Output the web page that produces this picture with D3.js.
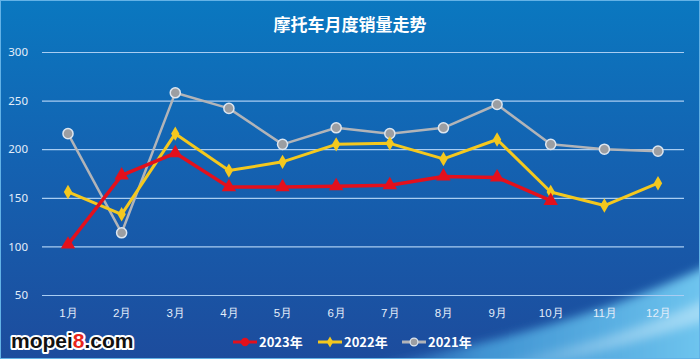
<!DOCTYPE html>
<html lang="zh">
<head>
<meta charset="UTF-8">
<script src="https://cdn.jsdelivr.net/npm/d3@7/dist/d3.min.js"></script>
<style>
  body { margin: 0; background: #fff; }
  svg { display: block; font-family: "Noto Sans CJK SC", "Noto Sans", sans-serif; }
</style>
</head>
<body>
<svg id="main_svg" width="700" height="362"></svg>
<script>
// 数据
var months = ["1月", "2月", "3月", "4月", "5月", "6月", "7月", "8月", "9月", "10月", "11月", "12月"];
var sales2023 = [102, 173, 196, 161, 161, 162, 163, 172, 171, 147];
var sales2022 = [156, 133, 216, 178, 187, 205, 206, 190, 210, 156, 142, 165];
var sales2021 = [216, 114, 258, 242, 205, 222, 216, 222, 246, 205, 200, 198];
var yTicks = [50, 100, 150, 200, 250, 300];
var seriesNames = ["2023年", "2022年", "2021年"];

var svg = d3.select("#main_svg");
var W = 700, H = 362;

// 背景渐变
var defs = svg.append("defs");
var bg = defs.append("linearGradient").attr("id", "bg").attr("x1", 0).attr("y1", 0).attr("x2", 0).attr("y2", 1);
bg.append("stop").attr("offset", "0%").attr("stop-color", "#0a78c0");
bg.append("stop").attr("offset", "45%").attr("stop-color", "#1462b1");
bg.append("stop").attr("offset", "100%").attr("stop-color", "#1d4c9d");
var sw = defs.append("linearGradient").attr("id", "swoosh").attr("x1", 0).attr("y1", 0).attr("x2", 1).attr("y2", 0);
sw.append("stop").attr("offset", "0%").attr("stop-color", "#3d8fd6").attr("stop-opacity", 0);
sw.append("stop").attr("offset", "40%").attr("stop-color", "#4aa6e0").attr("stop-opacity", 0.8);
sw.append("stop").attr("offset", "100%").attr("stop-color", "#72c8f0").attr("stop-opacity", 1);
var sw2 = defs.append("linearGradient").attr("id", "swoosh2").attr("x1", 0).attr("y1", 0).attr("x2", 1).attr("y2", 0);
sw2.append("stop").attr("offset", "0%").attr("stop-color", "#ffffff").attr("stop-opacity", 0);
sw2.append("stop").attr("offset", "100%").attr("stop-color", "#c6eafb").attr("stop-opacity", 0.6);
defs.append("filter").attr("id", "soft").attr("x", "-20%").attr("y", "-50%").attr("width", "140%").attr("height", "200%")
  .append("feGaussianBlur").attr("stdDeviation", 5);
defs.append("clipPath").attr("id", "bgclip")
  .append("rect").attr("width", W).attr("height", 359);

svg.append("rect").attr("width", W).attr("height", 359).attr("fill", "url(#bg)");
var swg = svg.append("g").attr("clip-path", "url(#bgclip)");
swg.append("path")
  .attr("d", "M330,372 C470,350 600,318 715,262 L715,372 Z")
  .attr("fill", "url(#swoosh)")
  .attr("filter", "url(#soft)");
swg.append("path")
  .attr("d", "M480,365 C580,348 650,325 715,295 L715,318 C650,338 590,356 540,365 Z")
  .attr("fill", "url(#swoosh2)")
  .attr("filter", "url(#soft)");
svg.append("rect").attr("x", 0.5).attr("y", 0.5).attr("width", W - 1).attr("height", 358)
  .attr("fill", "none").attr("stroke", "#63b2e6").attr("stroke-width", 1);

// 标题
svg.append("text")
  .attr("x", 350).attr("y", 31)
  .attr("text-anchor", "middle")
  .attr("fill", "#ffffff")
  .attr("font-size", "17px")
  .attr("font-weight", "bold")
  .text("摩托车月度销量走势");

var x = d3.scalePoint().domain(months).range([68, 658]);
var y = d3.scaleLinear().domain([50, 300]).range([295, 52]);

// 网格
var yAxis = d3.axisLeft(y).tickValues(yTicks).tickSize(-642).tickPadding(14);
var gy = svg.append("g").attr("transform", "translate(42,0)").call(yAxis);
gy.select(".domain").remove();
gy.selectAll(".tick line").attr("stroke", "#a9cdf2").attr("stroke-width", 1.2);
gy.selectAll(".tick text").attr("fill", "#e4eefa").attr("font-size", "11.5px").attr("font-family", "Noto Sans, sans-serif");

var xAxis = d3.axisBottom(x).tickSize(0).tickPadding(9);
var gx = svg.append("g").attr("transform", "translate(0,300)").call(xAxis);
gx.select(".domain").remove();
gx.selectAll(".tick text").attr("fill", "#e4eefa").attr("font-size", "11.5px");

var line = d3.line().x(function (d, i) { return x(months[i]); }).y(function (d) { return y(d); });

var series = [
  { name: seriesNames[0], data: sales2023, color: "#e3101c", width: 3.5, sym: d3.symbolTriangle, size: 90, stroke: "none" },
  { name: seriesNames[1], data: sales2022, color: "#f4c81e", width: 3, sym: d3.symbolDiamond, size: 60, stroke: "none" },
  { name: seriesNames[2], data: sales2021, color: "#b2b4b8", width: 2.5, sym: d3.symbolCircle, size: 80, stroke: "#dde6f0" }
];

// 先画 2021，再 2022，最后 2023
series.slice().reverse().forEach(function (s) {
  svg.append("path").datum(s.data)
    .attr("d", line)
    .attr("fill", "none")
    .attr("stroke", s.color)
    .attr("stroke-width", s.width)
    .attr("stroke-linejoin", "round");
  svg.append("g").selectAll("path").data(s.data).enter().append("path")
    .attr("transform", function (d, i) { return "translate(" + x(months[i]) + "," + y(d) + ")"; })
    .attr("d", d3.symbol().type(s.sym).size(s.size))
    .attr("fill", s.sym === d3.symbolCircle ? "#9c9ea2" : s.color)
    .attr("stroke", s.stroke)
    .attr("stroke-width", 1.5);
});

// 图例
var legendX = [233, 318, 402];
series.forEach(function (s, i) {
  var g = svg.append("g").attr("transform", "translate(" + legendX[i] + ",342)");
  g.append("line").attr("x1", 0).attr("x2", 24).attr("y1", 0).attr("y2", 0)
    .attr("stroke", s.color).attr("stroke-width", 3);
  g.append("path").attr("transform", "translate(12,0)")
    .attr("d", d3.symbol().type(s.sym === d3.symbolTriangle ? d3.symbolCircle : s.sym).size(s.size * 0.6))
    .attr("fill", s.sym === d3.symbolCircle ? "#9c9ea2" : s.color)
    .attr("stroke", s.stroke).attr("stroke-width", 1.2);
  g.append("text").attr("x", 26).attr("y", 5)
    .attr("fill", "#ffffff").attr("font-size", "13px").attr("font-weight", "bold")
    .text(s.name);
});

// 水印
var wm = svg.append("text")
  .attr("x", 11).attr("y", 348)
  .attr("font-family", "Liberation Sans, Arial, sans-serif")
  .attr("font-size", "21px").attr("font-weight", "bold")
  .attr("stroke", "#ffffff").attr("stroke-width", 4).attr("paint-order", "stroke")
  .attr("stroke-linejoin", "round")
  .attr("fill", "#111");
wm.append("tspan").text("mopei");
wm.append("tspan").attr("fill", "#e8261c").text("8");
wm.append("tspan").text(".com");
</script>
</body>
</html>
